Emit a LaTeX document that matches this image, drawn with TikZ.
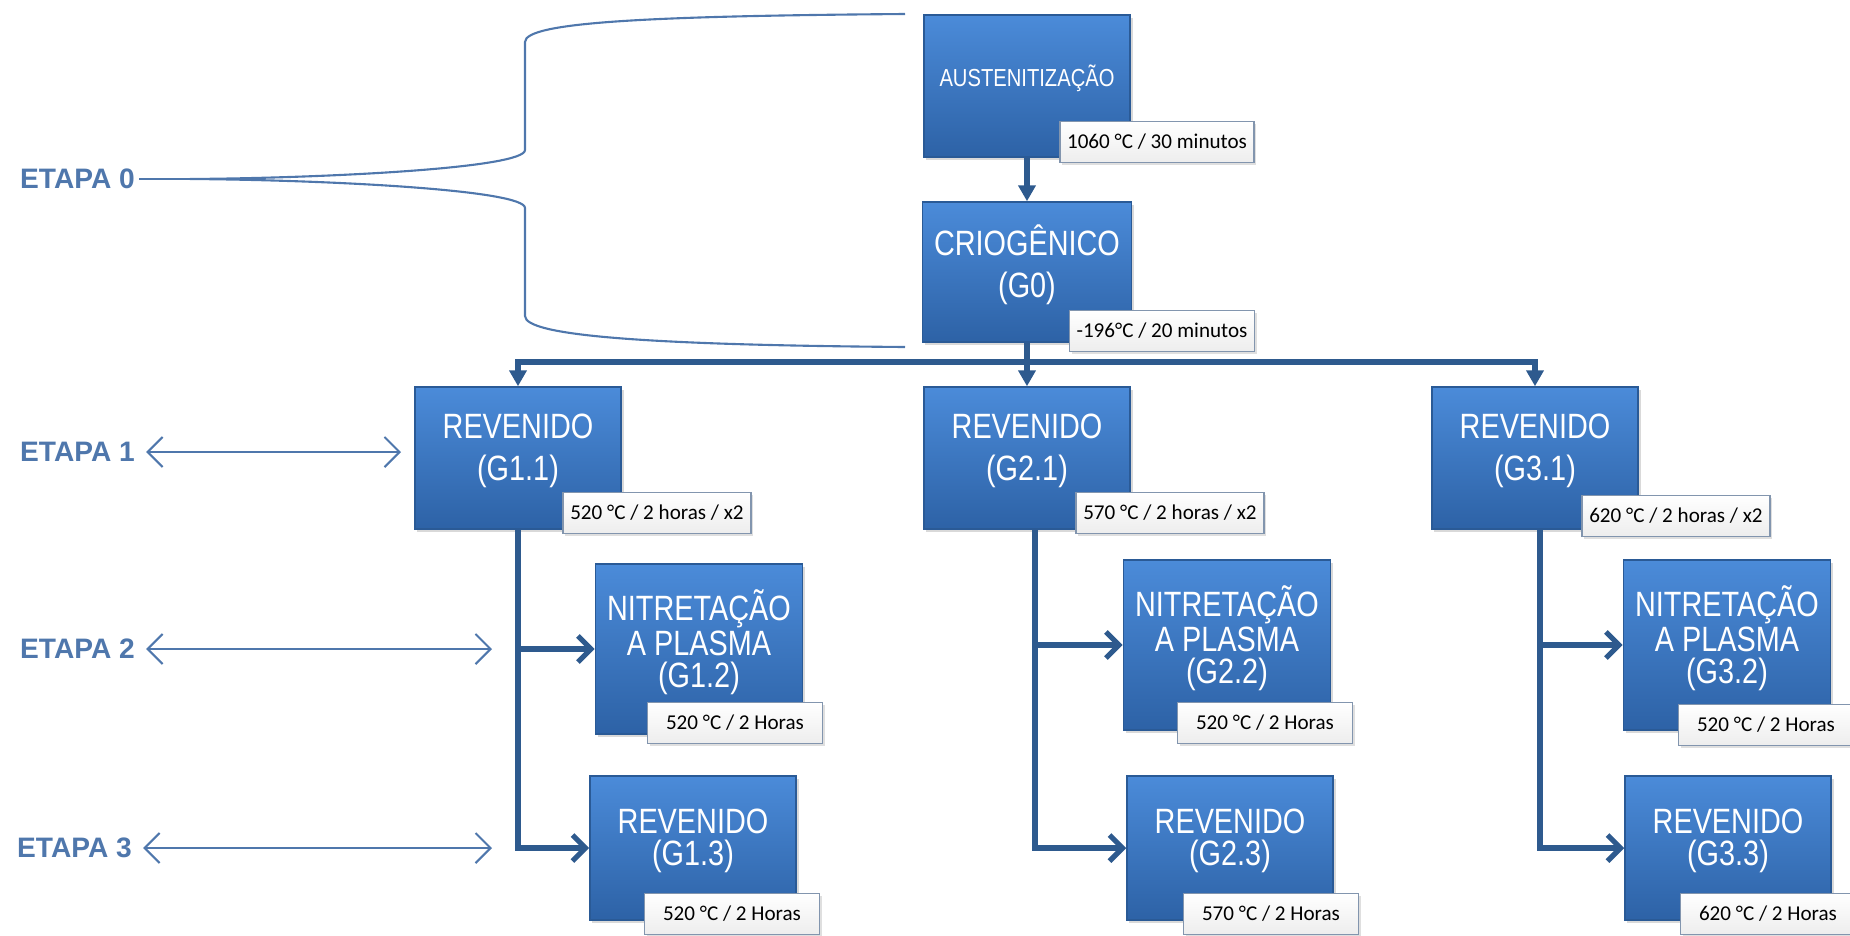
\documentclass[tikz,border=0pt]{standalone}
\usepackage{fontspec}
\setmainfont{Liberation Sans}
\newfontfamily\boxfont[FakeStretch=0.82]{Liberation Sans}
\newfontfamily\labfont{Carlito}
\usetikzlibrary{arrows.meta,shadows}
\definecolor{proctop}{HTML}{4B8BD9}
\definecolor{procbot}{HTML}{2D62A6}
\definecolor{procedge}{HTML}{2A5A96}
\definecolor{flowblue}{HTML}{2E5A8E}
\definecolor{stageblue}{HTML}{4F77AC}
\definecolor{tagline}{HTML}{8295AE}

\tikzset{
  proc/.style={rectangle, draw=procedge, line width=0.4pt, top color=proctop, bottom color=procbot,
    text=white, align=center, minimum width=2.06cm, text depth=6pt,
    drop shadow={opacity=0.3, shadow xshift=0.7pt, shadow yshift=-0.9pt},
    font=\boxfont\fontsize{10}{12}\selectfont},
  tight/.style={font=\boxfont\fontsize{10}{9}\selectfont},
  tag/.style={rectangle, draw=tagline, line width=0.5pt, top color=white, bottom color=gray!14,
    minimum width=1.75cm, minimum height=0.41cm, inner sep=2pt,
    drop shadow={opacity=0.25, shadow xshift=0.6pt, shadow yshift=-0.7pt},
    font=\labfont\fontsize{6}{7}\selectfont},
  flow/.style={draw=flowblue, line width=1.5pt},
  down/.style={-{Triangle[length=1.6mm,width=1.7mm]}},
  branch/.style={-{Straight Barb[length=1.3mm,width=2.6mm]}},
  stage/.style={text=stageblue, anchor=west, inner sep=1pt, font=\bfseries\fontsize{8}{9}\selectfont},
  stagearrow/.style={draw=stageblue, line width=0.6pt, shorten <=0.7mm,
    {Straight Barb[length=1.5mm,width=3mm]}-{Straight Barb[length=1.5mm,width=3mm]}},
  brace/.style={draw=stageblue, line width=0.6pt},
}

\begin{document}
\begin{tikzpicture}[x=0.01cm, y=-0.01cm]
\useasboundingbox (0,0) rectangle (1850,936);

% process boxes
\node[proc, minimum height=1.42cm, font=\boxfont\fontsize{7}{8}\selectfont] (aus) at (1027,86) {AUSTENITIZAÇÃO};
\node[proc, minimum height=1.40cm] (crio) at (1027,272) {CRIOGÊNICO\\(G0)};
\node[proc, minimum height=1.42cm] (g11) at (518,458) {REVENIDO\\(G1.1)};
\node[proc, minimum height=1.42cm] (g21) at (1027,458) {REVENIDO\\(G2.1)};
\node[proc, minimum height=1.42cm] (g31) at (1535,458) {REVENIDO\\(G3.1)};
\node[proc, tight, minimum height=1.70cm] (g12) at (699,649) {NITRETAÇÃO\\A PLASMA\\(G1.2)};
\node[proc, tight, minimum height=1.70cm] (g22) at (1227,645) {NITRETAÇÃO\\A PLASMA\\(G2.2)};
\node[proc, tight, minimum height=1.70cm] (g32) at (1727,645) {NITRETAÇÃO\\A PLASMA\\(G3.2)};
\node[proc, tight, minimum height=1.44cm] (g13) at (693,848) {REVENIDO\\(G1.3)};
\node[proc, tight, minimum height=1.44cm] (g23) at (1230,848) {REVENIDO\\(G2.3)};
\node[proc, tight, minimum height=1.44cm] (g33) at (1728,848) {REVENIDO\\(G3.3)};

% connectors
\coordinate (bar) at (1027,362);
\draw[flow, down] (aus) -- (crio);
\draw[flow, down] (crio) -- (g21);
\draw[flow, down] (bar) -| (g11);
\draw[flow, down] (bar) -| (g31);
\draw[flow, branch] (g11) |- (g12);
\draw[flow, branch] (g11) |- (g13);
\draw[flow, branch] ([xshift=0.08cm]g21.south) |- (g22);
\draw[flow, branch] ([xshift=0.08cm]g21.south) |- (g23);
\draw[flow, branch] ([xshift=0.05cm]g31.south) |- (g32);
\draw[flow, branch] ([xshift=0.05cm]g31.south) |- (g33);

% temperature tags
\node[tag] (t0a) at (1157,142) {1060 °C / 30 minutos};
\node[tag] (t0b) at (1162,331) {-196°C / 20 minutos};
\node[tag] (t11) at (657,513) {520 °C / 2 horas / x2};
\node[tag] (t21) at (1170,513) {570 °C / 2 horas / x2};
\node[tag] (t31) at (1676,516) {620 °C / 2 horas / x2};
\node[tag] (t12) at (735,723) {520 °C / 2 Horas};
\node[tag] (t22) at (1265,723) {520 °C / 2 Horas};
\node[tag] (t32) at (1766,725) {520 °C / 2 Horas};
\node[tag] (t13) at (732,914) {520 °C / 2 Horas};
\node[tag] (t23) at (1271,914) {570 °C / 2 Horas};
\node[tag] (t33) at (1768,914) {620 °C / 2 Horas};

% stages
\node[stage] (e0) at (16,179) {ETAPA 0};
\node[stage] (e1) at (16,452) {ETAPA 1};
\node[stage] (e2) at (16,649) {ETAPA 2};
\node[stage] (e3) at (13,848) {ETAPA 3};
\coordinate (tip) at (190,179);
\coordinate (bt) at (905,14);
\coordinate (bb) at (905,347);
\coordinate (s1) at (401,452);
\coordinate (s2) at (492,649);
\coordinate (s3) at (492,848);
\draw[brace] (e0.east) -- (tip);
\draw[brace] (bt) .. controls (650,16) and (525,22) .. (525,42) -- (525,150)
  .. controls (525,168) and (330,178) .. (tip)
  .. controls (330,180) and (525,190) .. (525,208) -- (525,316)
  .. controls (525,336) and (650,345) .. (bb);
\draw[stagearrow] (e1.east) -- (s1);
\draw[stagearrow] (e2.east) -- (s2);
\draw[stagearrow] (e3.east) -- (s3);
\end{tikzpicture}
\end{document}
